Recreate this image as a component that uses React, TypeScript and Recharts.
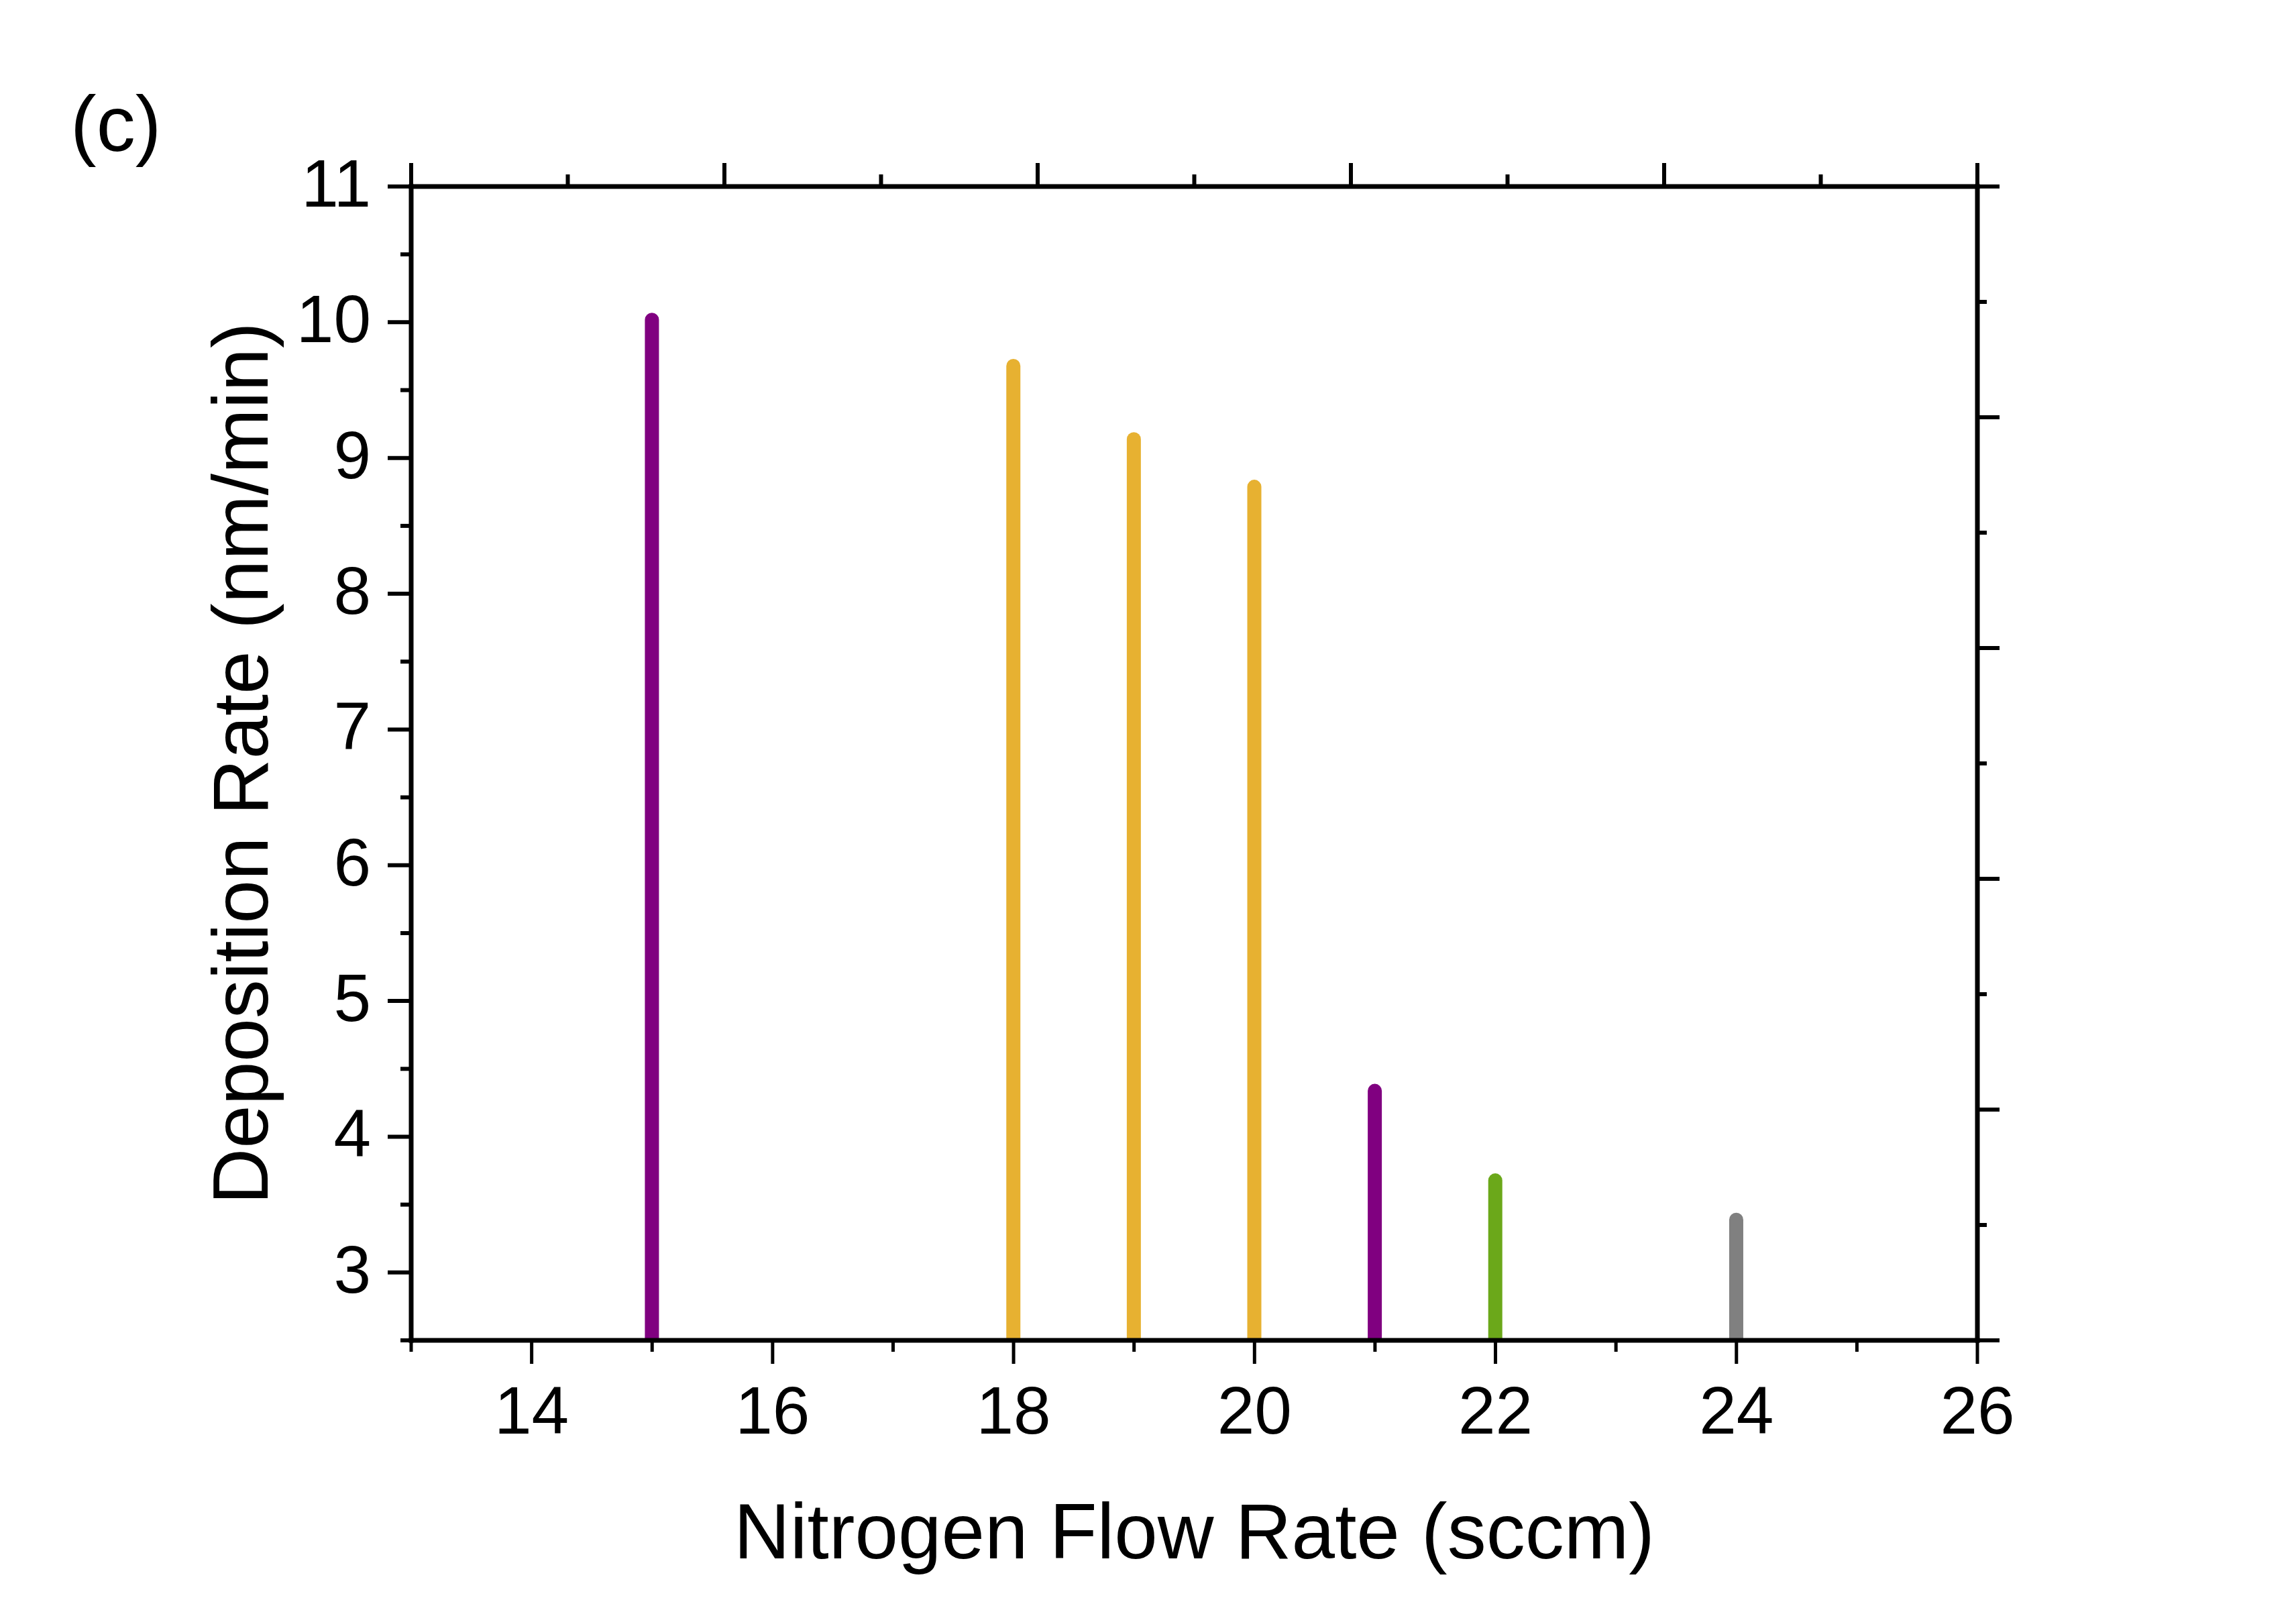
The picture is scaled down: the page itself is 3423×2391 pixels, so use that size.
import { BarChart, Bar, XAxis, YAxis, Cell, Label } from 'recharts';

// values
const flowRates = [15, 18, 19, 20, 21, 22, 24];
const depositionRates = [10.07, 9.73, 9.19, 8.84, 4.39, 3.73, 3.44];
const barColors = ['#800080', '#E7B131', '#E7B131', '#E7B131', '#800080', '#6BA81A', '#808080'];

const xTicks = [13, 14, 15, 16, 17, 18, 19, 20, 21, 22, 23, 24, 25, 26];
const yTicks = [2.5, 3, 3.5, 4, 4.5, 5, 5.5, 6, 6.5, 7, 7.5, 8, 8.5, 9, 9.5, 10, 10.5, 11];
// top frame ticks (unlabelled, 5 major steps with minor ticks between)
const topTicks = [13, 14.3, 15.6, 16.9, 18.2, 19.5, 20.8, 22.1, 23.4, 24.7, 26];
const rightTicks = [0, 0.5, 1, 1.5, 2, 2.5, 3, 3.5, 4, 4.5, 5];

const FONT = '"Liberation Sans", Arial, sans-serif';

const data = flowRates.map((x, i) => ({ flow: x, rate: depositionRates[i] }));

const BottomTick = (props: any) => {
    const { x, y, payload } = props;
    const v = payload.value;
    const major = v % 2 === 0;
    return (
        <g>
            <line x1={x} y1={y} x2={x} y2={y + (major ? 35 : 17)} stroke="#000" strokeWidth={5} />
            {major && (
                <text x={x} y={y + 139} textAnchor="middle" fontSize={100} fontFamily={FONT} fill="#000">
                    {v}
                </text>
            )}
        </g>
    );
};

const LeftTick = (props: any) => {
    const { x, y, payload } = props;
    const v = payload.value;
    const major = Number.isInteger(v);
    return (
        <g>
            <line x1={x} y1={y} x2={x - (major ? 35 : 16)} y2={y} stroke="#000" strokeWidth={6} />
            {major && (
                <text x={x - 60} y={y + 30} textAnchor="end" fontSize={100} fontFamily={FONT} fill="#000">
                    {v}
                </text>
            )}
        </g>
    );
};

const TopTick = (props: any) => {
    const { x, y, index } = props;
    const major = index % 2 === 0;
    return <line x1={x} y1={y} x2={x} y2={y - (major ? 35 : 18)} stroke="#000" strokeWidth={6} />;
};

const RightTick = (props: any) => {
    const { x, y, payload } = props;
    const major = Number.isInteger(payload.value);
    return <line x1={x} y1={y} x2={x + (major ? 33 : 14)} y2={y} stroke="#000" strokeWidth={6} />;
};

const axisLine = { stroke: '#000', strokeWidth: 7, strokeLinecap: 'square' as const };

export default function App() {
    return (
        <div style={{ position: 'absolute', left: 0, top: 0, width: 3423, height: 2391, background: '#fff' }}>
            <div
                style={{
                    position: 'absolute',
                    left: 105,
                    top: 127,
                    fontFamily: FONT,
                    fontSize: 116,
                    lineHeight: 1,
                    color: '#000',
                }}
            >
                (c)
            </div>
            <BarChart width={3423} height={2391} data={data} margin={{ top: 218, right: 375, bottom: 0, left: 0 }}>
                <XAxis
                    xAxisId="bottom"
                    dataKey="flow"
                    type="number"
                    domain={[13, 26]}
                    ticks={xTicks}
                    interval={0}
                    allowDataOverflow
                    height={393}
                    tickSize={0}
                    tickMargin={0}
                    tickLine={false}
                    axisLine={axisLine}
                    tick={<BottomTick />}
                >
                    <Label
                        content={(p: any) => {
                            const vb = p.viewBox;
                            return (
                                <text
                                    x={vb.x + vb.width / 2}
                                    y={vb.y + 325}
                                    textAnchor="middle"
                                    fontSize={116}
                                    fontFamily={FONT}
                                    fill="#000"
                                >
                                    Nitrogen Flow Rate (sccm)
                                </text>
                            );
                        }}
                    />
                </XAxis>
                <XAxis
                    xAxisId="top"
                    orientation="top"
                    dataKey="flow"
                    type="number"
                    domain={[13, 26]}
                    ticks={topTicks}
                    interval={0}
                    allowDataOverflow
                    height={60}
                    tickSize={0}
                    tickMargin={0}
                    tickLine={false}
                    axisLine={axisLine}
                    tick={<TopTick />}
                />
                <YAxis
                    yAxisId="left"
                    type="number"
                    domain={[2.5, 11]}
                    ticks={yTicks}
                    interval={0}
                    allowDataOverflow
                    width={613}
                    tickSize={0}
                    tickMargin={0}
                    tickLine={false}
                    axisLine={axisLine}
                    tick={<LeftTick />}
                >
                    <Label
                        content={(p: any) => {
                            const vb = p.viewBox;
                            const cy = vb.y + vb.height / 2;
                            return (
                                <text
                                    transform={`translate(399, ${cy}) rotate(-90)`}
                                    x={0}
                                    y={0}
                                    textAnchor="middle"
                                    fontSize={116}
                                    fontFamily={FONT}
                                    fill="#000"
                                >
                                    Deposition Rate (nm/min)
                                </text>
                            );
                        }}
                    />
                </YAxis>
                <YAxis
                    yAxisId="right"
                    orientation="right"
                    type="number"
                    domain={[0, 5]}
                    ticks={rightTicks}
                    interval={0}
                    allowDataOverflow
                    width={100}
                    tickSize={0}
                    tickMargin={0}
                    tickLine={false}
                    axisLine={axisLine}
                    tick={<RightTick />}
                />
                <Bar
                    xAxisId="bottom"
                    yAxisId="left"
                    dataKey="rate"
                    barSize={21}
                    radius={[10.5, 10.5, 0, 0]}
                    isAnimationActive={false}
                >
                    {data.map((d, i) => (
                        <Cell key={d.flow} fill={barColors[i]} />
                    ))}
                </Bar>
            </BarChart>
        </div>
    );
}
